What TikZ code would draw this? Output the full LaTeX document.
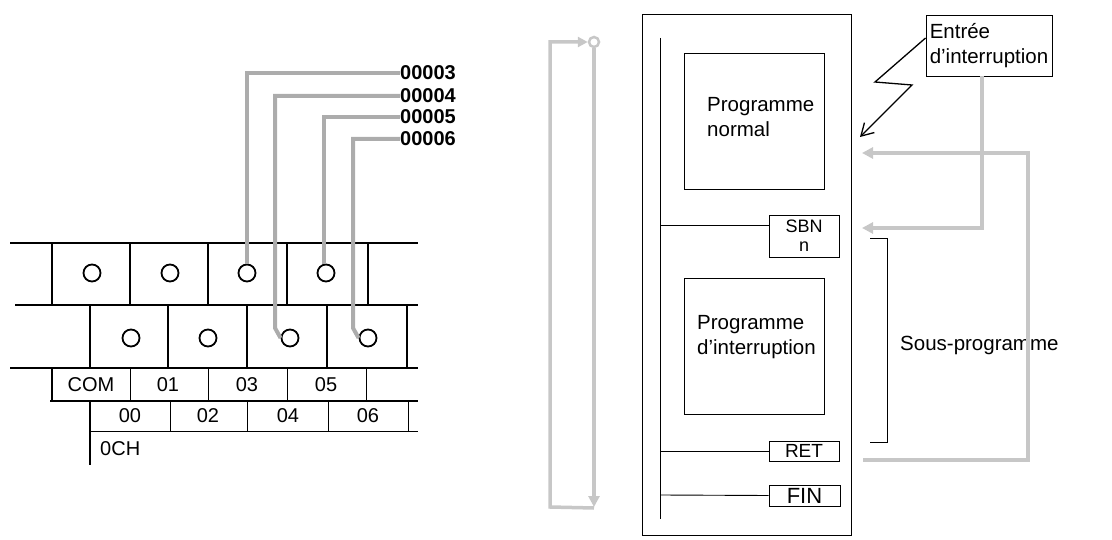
\documentclass[tikz,border=0pt]{standalone}
\usepackage{fontspec}
\setmainfont{Liberation Sans}
\usetikzlibrary{arrows.meta}
\begin{document}
\begin{tikzpicture}[x=1pt,y=-1pt,
  blk/.style={line width=2pt},
  thin/.style={line width=0.9pt},
  hole/.style={circle,draw,line width=1.8pt,minimum size=17pt,inner sep=0pt},
  wire/.style={line width=4pt,draw=gray!65},
  lbl/.style={font=\fontsize{20}{20}\selectfont,inner sep=0pt},
  addr/.style={font=\fontsize{20}{20}\selectfont\bfseries,inner sep=0pt,anchor=west},
  gline/.style={line width=3.5pt,draw=black!22},
  garrow/.style={gline,-{Triangle[length=11pt,width=11pt]}},
  box/.style={draw,thin},
  txt/.style={font=\fontsize{20.5}{25}\selectfont,align=left,inner sep=0pt,anchor=west}]
\useasboundingbox (0,0) rectangle (1112,540);
% terminal block
\draw[blk] (10,243)--(418,243) (15,305)--(418,305) (10,368)--(418,368) (50,401)--(418,401);
\draw[thin] (90,431)--(418,431);
\foreach \x in {52,130,208,287,368} \draw[blk] (\x,243)--(\x,305);
\foreach \x in {90,168,247,327,407} \draw[blk] (\x,305)--(\x,368);
\foreach \x in {130,208,287,366} \draw[thin] (\x,368)--(\x,401);
\draw[blk] (52,368)--(52,401);
\foreach \x in {170,247,328,408} \draw[thin] (\x,401)--(\x,431);
\draw[blk] (90,401)--(90,465);
\foreach \x/\n in {92/a1,170/a2,247/a3,326/a4} \node[hole] (\n) at (\x,273) {};
\foreach \x/\n in {131/b1,208/b2,290/b3,368/b4} \node[hole] (\n) at (\x,338) {};
\foreach \x/\t in {91/COM,168/01,247/03,326/05} \node[lbl] (l\t) at (\x,385) {\t};
\foreach \x/\t in {130/00,208/02,288/04,368/06} \node[lbl] (l\t) at (\x,416) {\t};
\node[lbl,anchor=west] (och) at (100,449) {0CH};
% wires
\node[addr] (w3) at (400,73) {00003};
\node[addr] (w4) at (400,96) {00004};
\node[addr] (w5) at (400,117) {00005};
\node[addr] (w6) at (400,139) {00006};
\draw[wire] (a3.north) |- (w3.west);
\draw[wire] (b3.west) -- (275,328) |- (w4.west);
\draw[wire] (a4.north) ++(-2,0) |- (w5.west);
\draw[wire] (b4.west) -- (353,328) |- (w6.west);
% program
\node[box,minimum width=209pt,minimum height=521pt,inner sep=0pt] (outer) at (746.5,275) {};
\coordinate (rt) at (660,38); \coordinate (rb) at (660,519);
\draw[thin] (rt)--(rb);
\node[box,minimum width=140pt,minimum height=136pt,inner sep=0pt] (pn) at (754,121) {};
\node[txt] (pnt) at (707,117) {Programme\\normal};
\node[box,minimum width=140pt,minimum height=136pt,inner sep=0pt] (pi) at (754,346) {};
\node[txt] (pit) at (697,337) {Programme\\d’interruption};
\node[box,minimum width=70pt,minimum height=42pt,inner sep=0pt,font=\fontsize{18}{19}\selectfont,align=center] (sbn) at (804,236) {SBN\\n};
\node[box,minimum width=70pt,minimum height=20pt,inner sep=0pt,font=\fontsize{19}{19}\selectfont] (ret) at (804,451) {RET};
\node[box,minimum width=71pt,minimum height=21pt,inner sep=0pt,font=\fontsize{22}{22}\selectfont] (fin) at (804.5,495.5) {FIN};
\draw[thin] (660,225)--(sbn.west|-660,225);
\draw[thin] (660,451)--(ret.west);
\draw[thin] (660,495)--(fin.west);
\draw[thin] (870,238)--(887,238)--(887,442)--(870,442);
\node[txt] (sp) at (900,345) {Sous-programme};
\node[box,minimum width=126pt,minimum height=61pt,inner sep=0pt,txt,anchor=center,align=left] (ent) at (989,45.5) {Entrée\\d’interruption};
\draw[line width=1.3pt,-{Straight Barb[length=12pt,width=14pt]}] (ent.west|-0,38) -- (875,82) -- (912,85) -- (860,137);
% gray arrows
\coordinate (c1) at (982,228); \coordinate (t1) at (862,228);
\draw[garrow] (ent.south-|982,0) -- (c1) -- (t1);
\coordinate (r0) at (863,460); \coordinate (r1) at (1028,460); \coordinate (r2) at (1028,153); \coordinate (t2) at (862,153);
\draw[garrow] (r0) -- (r1) -- (r2) -- (t2);
\node[circle,draw=black!22,line width=2.5pt,minimum size=10pt,inner sep=0pt] (loop) at (594,42) {};
\coordinate (lb) at (594,507); \coordinate (lt) at (550,507); \coordinate (lu) at (550,42);
\draw[garrow] (loop.south) -- (lb);
\draw[garrow,-{Triangle[length=10pt,width=10pt]}] (594,508) -- (lt) -- (lu) -- (loop.west);
\end{tikzpicture}
\end{document}
